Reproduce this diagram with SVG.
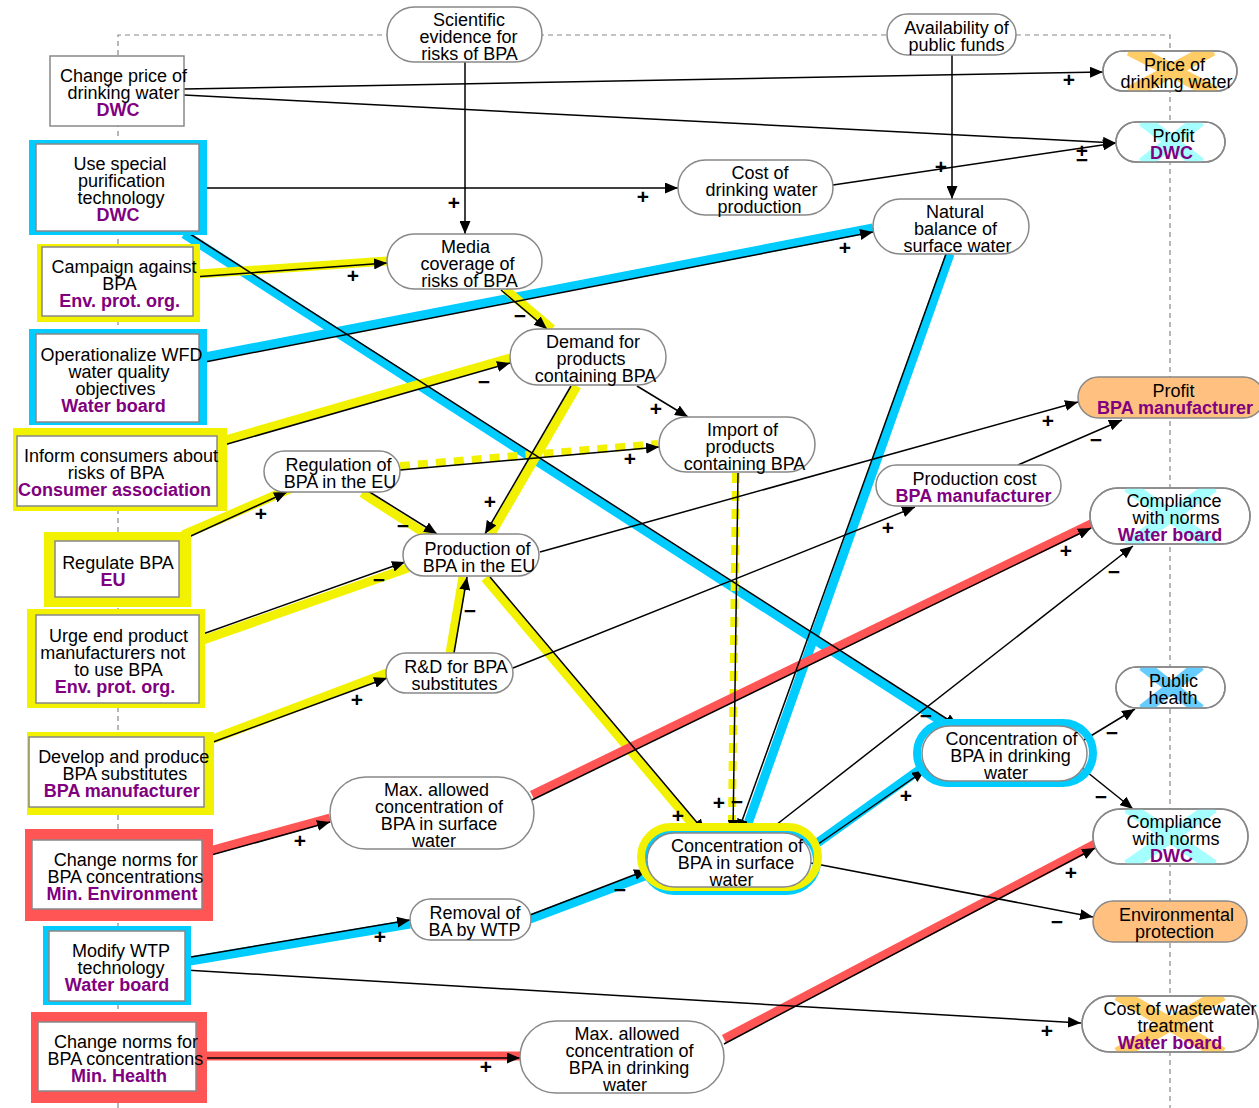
<svg xmlns="http://www.w3.org/2000/svg" width="1259" height="1108" viewBox="0 0 1259 1108">
<style>
.t{font-family:"Liberation Sans",Arial,sans-serif;font-size:18px;text-anchor:middle;fill:#000}
.p{fill:#800080;font-weight:bold}
.nb{fill:#fff;stroke:#888;stroke-width:1.5}
.or{fill:#FFC080;stroke:#888;stroke-width:1.5}
.frame{fill:none;stroke:#888;stroke-width:1.2;stroke-dasharray:5,4}
.ln{fill:none;stroke:#000;stroke-width:1.5;marker-end:url(#ah)}
.cy{fill:none;stroke:#00CCFF;stroke-width:9}
.ye{fill:none;stroke:#F2F200;stroke-width:9}
.yd{fill:none;stroke:#F2F200;stroke-width:8;stroke-dasharray:10,8}
.rd{fill:none;stroke:#FF5555;stroke-width:9}
.pl{font-family:"Liberation Sans",Arial,sans-serif;font-size:21px;font-weight:bold;text-anchor:middle;fill:#000}
.xo{stroke:#FFCC66;stroke-width:14}
.xc{stroke:#A6FFFF;stroke-width:13}
.xb{stroke:#66CCFF;stroke-width:12}
</style>
<defs>
<marker id="ah" viewBox="0 0 13 11" refX="13" refY="5.5" markerWidth="13" markerHeight="11" orient="auto" markerUnits="userSpaceOnUse"><path d="M0,0 L13,5.5 L0,11 z" fill="#000"/></marker>
<clipPath id="c_price"><rect x="1103" y="51" width="134" height="40" rx="20"/></clipPath>
<clipPath id="c_pdwc"><rect x="1116" y="122" width="109" height="40" rx="20"/></clipPath>
<clipPath id="c_cwb"><rect x="1090" y="488" width="160" height="56" rx="28"/></clipPath>
<clipPath id="c_ph"><rect x="1116" y="667" width="109" height="41" rx="20.5"/></clipPath>
<clipPath id="c_cdwc"><rect x="1093" y="809" width="155" height="55" rx="27.5"/></clipPath>
<clipPath id="c_cww"><rect x="1082" y="996" width="176" height="56" rx="28"/></clipPath>
</defs>
<rect width="1259" height="1108" fill="#fff"/>
<path class="frame" d="M118,1108 V35 H1170 V1108"/>

<g id="connectors">
<!-- highlight bands -->
<line class="cy" x1="184" y1="234" x2="950" y2="727"/>
<line class="cy" x1="205" y1="357" x2="873" y2="228"/>
<line class="cy" x1="950" y1="254" x2="745" y2="832"/>
<line class="cy" x1="813" y1="846" x2="922" y2="768"/>
<line class="cy" x1="190" y1="961" x2="410" y2="924"/>
<line class="cy" x1="530" y1="919" x2="650" y2="874"/>
<line class="ye" x1="198" y1="274" x2="387" y2="261"/>
<line class="ye" x1="505" y1="289" x2="552" y2="329"/>
<line class="ye" x1="222" y1="441" x2="510" y2="358"/>
<line class="ye" x1="577" y1="386" x2="491" y2="534"/>
<line class="ye" x1="362" y1="493" x2="432" y2="538"/>
<line class="ye" x1="183" y1="535" x2="292" y2="488"/>
<line class="ye" x1="203" y1="640" x2="408" y2="568"/>
<line class="ye" x1="210" y1="740" x2="387" y2="673"/>
<line class="ye" x1="450" y1="653" x2="463" y2="577"/>
<line class="ye" x1="485" y1="578" x2="700" y2="833"/>
<line class="yd" x1="400" y1="466" x2="658" y2="444"/>
<line class="yd" x1="736" y1="473" x2="732" y2="822"/>
<line class="rd" x1="206" y1="852" x2="330" y2="818"/>
<line class="rd" x1="532" y1="795" x2="1093" y2="523"/>
<line class="rd" x1="206" y1="1056" x2="520" y2="1056"/>
<line class="rd" x1="724" y1="1039" x2="1097" y2="843"/>
<!-- causal links -->
<line class="ln" x1="184" y1="89" x2="1103" y2="72"/>
<line class="ln" x1="184" y1="95" x2="1116" y2="143"/>
<line class="ln" x1="199" y1="188" x2="678" y2="188"/>
<line class="ln" x1="833" y1="185" x2="1116" y2="143"/>
<line class="ln" x1="465" y1="62" x2="465" y2="234"/>
<line class="ln" x1="952" y1="55" x2="952" y2="199"/>
<line class="ln" x1="193" y1="277" x2="387" y2="263"/>
<line class="ln" x1="200" y1="363" x2="873" y2="232"/>
<line class="ln" x1="187" y1="232" x2="958" y2="726"/>
<line class="ln" x1="501" y1="290" x2="547" y2="329"/>
<line class="ln" x1="217" y1="447" x2="510" y2="363"/>
<line class="ln" x1="637" y1="386" x2="688" y2="417"/>
<line class="ln" x1="571" y1="386" x2="485" y2="534"/>
<line class="ln" x1="400" y1="470" x2="659" y2="447"/>
<line class="ln" x1="368" y1="491" x2="437" y2="534"/>
<line class="ln" x1="180" y1="541" x2="287" y2="492"/>
<line class="ln" x1="200" y1="635" x2="405" y2="562"/>
<line class="ln" x1="205" y1="745" x2="387" y2="678"/>
<line class="ln" x1="454" y1="653" x2="467" y2="577"/>
<line class="ln" x1="540" y1="552" x2="1078" y2="402"/>
<line class="ln" x1="513" y1="668" x2="915" y2="507"/>
<line class="ln" x1="1018" y1="465" x2="1122" y2="420"/>
<line class="ln" x1="490" y1="577" x2="705" y2="832"/>
<line class="ln" x1="738" y1="473" x2="733" y2="833"/>
<line class="ln" x1="946" y1="254" x2="738" y2="832"/>
<line class="ln" x1="204" y1="857" x2="330" y2="822"/>
<line class="ln" x1="532" y1="800" x2="1091" y2="528"/>
<line class="ln" x1="767" y1="832" x2="1133" y2="546"/>
<line class="ln" x1="811" y1="849" x2="925" y2="770"/>
<line class="ln" x1="811" y1="863" x2="1093" y2="917"/>
<line class="ln" x1="185" y1="958" x2="410" y2="920"/>
<line class="ln" x1="530" y1="915" x2="647" y2="870"/>
<line class="ln" x1="185" y1="970" x2="1081" y2="1023"/>
<line class="ln" x1="204" y1="1058" x2="520" y2="1058"/>
<line class="ln" x1="724" y1="1044" x2="1095" y2="848"/>
<line class="ln" x1="1084" y1="740" x2="1135" y2="709"/>
<line class="ln" x1="1082" y1="768" x2="1133" y2="809"/>
<!-- polarity labels -->
<g class="pl">
<text x="1069" y="87">+</text>
<text x="1082" y="158">+</text>
<text x="1082" y="167">−</text>
<text x="941" y="174">+</text>
<text x="643" y="204">+</text>
<text x="454" y="210">+</text>
<text x="353" y="283">+</text>
<text x="845" y="255">+</text>
<text x="520" y="323">−</text>
<text x="484" y="389">−</text>
<text x="656" y="416">+</text>
<text x="630" y="466">+</text>
<text x="490" y="509">+</text>
<text x="403" y="533">−</text>
<text x="261" y="521">+</text>
<text x="379" y="587">−</text>
<text x="357" y="707">+</text>
<text x="470" y="618">−</text>
<text x="1048" y="428">+</text>
<text x="888" y="535">+</text>
<text x="1096" y="447">−</text>
<text x="1066" y="558">+</text>
<text x="1114" y="579">−</text>
<text x="926" y="723">−</text>
<text x="906" y="803">+</text>
<text x="1112" y="740">−</text>
<text x="1101" y="804">−</text>
<text x="1071" y="880">+</text>
<text x="1057" y="929">−</text>
<text x="1047" y="1038">+</text>
<text x="678" y="823">+</text>
<text x="719" y="810">+</text>
<text x="737" y="809">−</text>
<text x="620" y="897">−</text>
<text x="380" y="944">+</text>
<text x="300" y="848">+</text>
<text x="486" y="1074">+</text>
</g>
</g>

<!-- rectangular action nodes -->
<g id="n_changeprice">
<rect class="nb" x="50" y="56" width="134" height="70"/>
<text class="t" x="123.5" y="82">Change price of</text>
<text class="t" x="123.5" y="99">drinking water</text>
<text class="t p" x="118" y="116">DWC</text>
</g>
<g id="n_usespecial">
<rect x="29" y="140" width="178" height="95" fill="#00CCFF"/>
<rect class="nb" x="36" y="144" width="163" height="87"/>
<text class="t" x="120" y="170">Use special</text>
<text class="t" x="121.5" y="187">purification</text>
<text class="t" x="121" y="204">technology</text>
<text class="t p" x="118" y="221">DWC</text>
</g>
<g id="n_campaign">
<rect x="37" y="244" width="163" height="78" fill="#F2F200"/>
<rect class="nb" x="42" y="247" width="151" height="69"/>
<text class="t" x="124" y="272.5">Campaign against</text>
<text class="t" x="119.5" y="289.5">BPA</text>
<text class="t p" x="119.7" y="306.5">Env. prot. org.</text>
</g>
<g id="n_operationalize">
<rect x="29" y="329" width="178" height="96" fill="#00CCFF"/>
<rect class="nb" x="36" y="334" width="163" height="88"/>
<text class="t" x="121.5" y="360.5">Operationalize WFD</text>
<text class="t" x="119" y="377.5">water quality</text>
<text class="t" x="115.5" y="394.5">objectives</text>
<text class="t p" x="113.5" y="411.5">Water board</text>
</g>
<g id="n_inform">
<rect x="13" y="428" width="214" height="83" fill="#F2F200"/>
<rect class="nb" x="17" y="436" width="200" height="70"/>
<text class="t" x="121" y="462">Inform consumers about</text>
<text class="t" x="116" y="479">risks of BPA</text>
<text class="t p" x="114.5" y="496">Consumer association</text>
</g>
<g id="n_regulate">
<rect x="44" y="532" width="147" height="75" fill="#F2F200"/>
<rect class="nb" x="55" y="541" width="124" height="56"/>
<text class="t" x="118" y="568.5">Regulate BPA</text>
<text class="t p" x="113" y="585.5">EU</text>
</g>
<g id="n_urge">
<rect x="27" y="609" width="178" height="99" fill="#F2F200"/>
<rect class="nb" x="36" y="615" width="163" height="88"/>
<text class="t" x="118.5" y="641.5">Urge end product</text>
<text class="t" x="112.7" y="658.5">manufacturers not</text>
<text class="t" x="118.5" y="675.5">to use BPA</text>
<text class="t p" x="115" y="692.5">Env. prot. org.</text>
</g>
<g id="n_develop">
<rect x="27" y="732" width="187" height="83" fill="#F2F200"/>
<rect class="nb" x="29" y="737" width="175" height="70"/>
<text class="t" x="123.7" y="763">Develop and produce</text>
<text class="t" x="124.8" y="780">BPA substitutes</text>
<text class="t p" x="121.8" y="797">BPA manufacturer</text>
</g>
<g id="n_minenv">
<rect x="25" y="829" width="188" height="92" fill="#FF5555"/>
<rect class="nb" x="32" y="840" width="170" height="69"/>
<text class="t" x="125.8" y="865.5">Change norms for</text>
<text class="t" x="125.3" y="882.5">BPA concentrations</text>
<text class="t p" x="122" y="899.5">Min. Environment</text>
</g>
<g id="n_modify">
<rect x="43" y="926" width="148" height="79" fill="#00CCFF"/>
<rect class="nb" x="49" y="931" width="136" height="70"/>
<text class="t" x="121" y="957">Modify WTP</text>
<text class="t" x="121" y="974">technology</text>
<text class="t p" x="117" y="991">Water board</text>
</g>
<g id="n_minhealth">
<rect x="31" y="1012" width="176" height="91" fill="#FF5555"/>
<rect class="nb" x="38" y="1022" width="158" height="69"/>
<text class="t" x="126" y="1047.5">Change norms for</text>
<text class="t" x="125.5" y="1064.5">BPA concentrations</text>
<text class="t p" x="119" y="1081.5">Min. Health</text>
</g>

<!-- rounded variable nodes -->
<g id="n_scientific">
<rect class="nb" x="387" y="7" width="155" height="55" rx="27.5"/>
<text class="t" x="469" y="25.5">Scientific</text>
<text class="t" x="468.5" y="42.5">evidence for</text>
<text class="t" x="469.5" y="59.5">risks of BPA</text>
</g>
<g id="n_media">
<rect class="nb" x="387" y="234" width="155" height="55" rx="27.5"/>
<text class="t" x="465.5" y="252.5">Media</text>
<text class="t" x="467.5" y="269.5">coverage of</text>
<text class="t" x="469.5" y="286.5">risks of BPA</text>
</g>
<g id="n_cost">
<rect class="nb" x="678" y="160" width="155" height="55" rx="27.5"/>
<text class="t" x="760" y="178.5">Cost of</text>
<text class="t" x="761.5" y="195.5">drinking water</text>
<text class="t" x="759.5" y="212.5">production</text>
</g>
<g id="n_avail">
<rect class="nb" x="887" y="14" width="129" height="41" rx="20.5"/>
<text class="t" x="956.5" y="34">Availability of</text>
<text class="t" x="956.5" y="51">public funds</text>
</g>
<g id="n_price">
<rect class="nb" x="1103" y="51" width="134" height="40" rx="20"/>
<g clip-path="url(#c_price)"><line class="xo" x1="1130" y1="49" x2="1215" y2="93"/><line class="xo" x1="1212" y1="49" x2="1130" y2="93"/></g>
<rect x="1103" y="51" width="134" height="40" rx="20" fill="none" stroke="#888" stroke-width="1.5"/>
<text class="t" x="1174.5" y="70.5">Price of</text>
<text class="t" x="1176.5" y="87.5">drinking water</text>
</g>
<g id="n_profitdwc">
<rect class="nb" x="1116" y="122" width="109" height="40" rx="20"/>
<g clip-path="url(#c_pdwc)"><line class="xc" x1="1143" y1="120" x2="1200" y2="164"/><line class="xc" x1="1200" y1="120" x2="1143" y2="164"/></g>
<rect x="1116" y="122" width="109" height="40" rx="20" fill="none" stroke="#888" stroke-width="1.5"/>
<text class="t" x="1173.5" y="141.5">Profit</text>
<text class="t p" x="1171.5" y="158.5">DWC</text>
</g>
<g id="n_natural">
<rect class="nb" x="873" y="199" width="156" height="55" rx="27.5"/>
<text class="t" x="955" y="217.5">Natural</text>
<text class="t" x="955.5" y="234.5">balance of</text>
<text class="t" x="957.5" y="251.5">surface water</text>
</g>
<g id="n_demand">
<rect class="nb" x="510" y="329" width="156" height="56" rx="28"/>
<text class="t" x="593" y="348">Demand for</text>
<text class="t" x="591" y="365">products</text>
<text class="t" x="595.5" y="382">containing BPA</text>
</g>
<g id="n_import">
<rect class="nb" x="659" y="417" width="156" height="55" rx="27.5"/>
<text class="t" x="742.5" y="435.5">Import of</text>
<text class="t" x="740" y="452.5">products</text>
<text class="t" x="744.5" y="469.5">containing BPA</text>
</g>
<g id="n_regulation">
<rect class="nb" x="264" y="451" width="136" height="41" rx="20.5"/>
<text class="t" x="338.5" y="471">Regulation of</text>
<text class="t" x="340" y="488">BPA in the EU</text>
</g>
<g id="n_production">
<rect class="nb" x="403" y="534" width="136" height="42" rx="21"/>
<text class="t" x="477.5" y="554.5">Production of</text>
<text class="t" x="479" y="571.5">BPA in the EU</text>
</g>
<g id="n_rd">
<rect class="nb" x="386" y="653" width="127" height="40" rx="20"/>
<text class="t" x="456" y="672.5">R&amp;D for BPA</text>
<text class="t" x="454.5" y="689.5">substitutes</text>
</g>
<g id="n_profitbpa">
<rect class="or" x="1078" y="377" width="186" height="41" rx="20.5"/>
<text class="t" x="1173.5" y="397">Profit</text>
<text class="t p" x="1175" y="414">BPA manufacturer</text>
</g>
<g id="n_prodcost">
<rect class="nb" x="876" y="465" width="185" height="41" rx="20.5"/>
<text class="t" x="974.5" y="485">Production cost</text>
<text class="t p" x="973.5" y="502">BPA manufacturer</text>
</g>
<g id="n_compwb">
<rect class="nb" x="1090" y="488" width="160" height="56" rx="28"/>
<g clip-path="url(#c_cwb)"><line class="xc" x1="1128" y1="486" x2="1213" y2="546"/><line class="xc" x1="1213" y1="486" x2="1128" y2="546"/></g>
<rect x="1090" y="488" width="160" height="56" rx="28" fill="none" stroke="#888" stroke-width="1.5"/>
<text class="t" x="1174" y="507">Compliance</text>
<text class="t" x="1176" y="524">with norms</text>
<text class="t p" x="1170" y="541">Water board</text>
</g>
<g id="n_publichealth">
<rect class="nb" x="1116" y="667" width="109" height="41" rx="20.5"/>
<g clip-path="url(#c_ph)"><line class="xb" x1="1143" y1="665" x2="1200" y2="710"/><line class="xb" x1="1200" y1="665" x2="1143" y2="710"/></g>
<rect x="1116" y="667" width="109" height="41" rx="20.5" fill="none" stroke="#888" stroke-width="1.5"/>
<text class="t" x="1173.5" y="687">Public</text>
<text class="t" x="1173" y="704">health</text>
</g>
<g id="n_maxsurface">
<rect class="nb" x="330" y="777" width="204" height="72" rx="36"/>
<text class="t" x="436.5" y="795.5">Max. allowed</text>
<text class="t" x="439" y="812.5">concentration of</text>
<text class="t" x="439" y="829.5">BPA in surface</text>
<text class="t" x="434" y="846.5">water</text>
</g>
<g id="n_concsurface">
<rect x="644" y="831" width="173" height="60" rx="30" fill="none" stroke="#00CCFF" stroke-width="8"/>
<rect x="641" y="827" width="177" height="60" rx="30" fill="none" stroke="#F2F200" stroke-width="8"/>
<rect class="nb" x="647" y="833" width="164" height="54" rx="27"/>
<text class="t" x="737" y="851.5">Concentration of</text>
<text class="t" x="736" y="868.5">BPA in surface</text>
<text class="t" x="731.5" y="885.5">water</text>
</g>
<g id="n_concdrink">
<rect x="917" y="723" width="176" height="60" rx="30" fill="none" stroke="#00CCFF" stroke-width="8"/>
<rect class="nb" x="922" y="726" width="165" height="55" rx="27.5"/>
<text class="t" x="1011.5" y="745">Concentration of</text>
<text class="t" x="1010.5" y="762">BPA in drinking</text>
<text class="t" x="1006" y="779">water</text>
</g>
<g id="n_compdwc">
<rect class="nb" x="1093" y="809" width="155" height="55" rx="27.5"/>
<g clip-path="url(#c_cdwc)"><line class="xc" x1="1128" y1="807" x2="1213" y2="866"/><line class="xc" x1="1213" y1="807" x2="1128" y2="866"/></g>
<rect x="1093" y="809" width="155" height="55" rx="27.5" fill="none" stroke="#888" stroke-width="1.5"/>
<text class="t" x="1174" y="827.5">Compliance</text>
<text class="t" x="1176" y="844.5">with norms</text>
<text class="t p" x="1171.5" y="861.5">DWC</text>
</g>
<g id="n_envprot">
<rect class="or" x="1093" y="901" width="154" height="41" rx="20.5"/>
<text class="t" x="1176.5" y="921">Environmental</text>
<text class="t" x="1174.5" y="938">protection</text>
</g>
<g id="n_costww">
<rect class="nb" x="1082" y="996" width="176" height="56" rx="28"/>
<g clip-path="url(#c_cww)"><line class="xo" x1="1118" y1="994" x2="1222" y2="1054"/><line class="xo" x1="1222" y1="994" x2="1118" y2="1054"/></g>
<rect x="1082" y="996" width="176" height="56" rx="28" fill="none" stroke="#888" stroke-width="1.5"/>
<text class="t" x="1180" y="1015">Cost of wastewater</text>
<text class="t" x="1175.5" y="1032">treatment</text>
<text class="t p" x="1170" y="1049">Water board</text>
</g>
<g id="n_removal">
<rect class="nb" x="410" y="899" width="121" height="41" rx="20.5"/>
<text class="t" x="475" y="919">Removal of</text>
<text class="t" x="474.5" y="936">BA by WTP</text>
</g>
<g id="n_maxdrink">
<rect class="nb" x="520" y="1021" width="204" height="72" rx="36"/>
<text class="t" x="627" y="1039.5">Max. allowed</text>
<text class="t" x="629.5" y="1056.5">concentration of</text>
<text class="t" x="629" y="1073.5">BPA in drinking</text>
<text class="t" x="625" y="1090.5">water</text>
</g>
</svg>
